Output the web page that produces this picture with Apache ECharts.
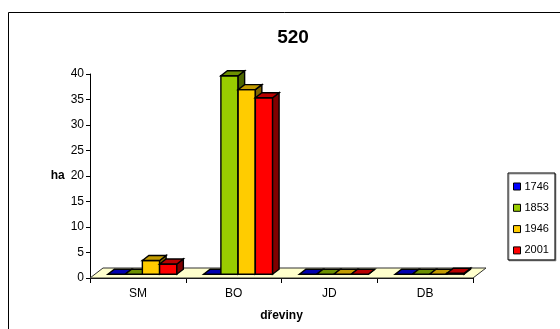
<!DOCTYPE html>
<html>
<head>
<meta charset="utf-8">
<script src="https://cdn.jsdelivr.net/npm/echarts@6/dist/echarts.min.js"></script>
<style>
html,body{margin:0;padding:0;background:#fff;}
#chart{width:560px;height:329px;}
</style>
</head>
<body>
<div id="chart"></div>
<script>
var categories = ['SM', 'BO', 'JD', 'DB'];
var years = ['1746', '1853', '1946', '2001'];
var v1746 = [0, 0, 0, 0];
var v1853 = [0, 38.9, 0, 0];
var v1946 = [2.7, 36.2, 0, 0];
var v2001 = [2.0, 34.6, 0, 0.2];
var yTicks = [0, 5, 10, 15, 20, 25, 30, 35, 40];

var seriesValues = [v1746, v1853, v1946, v2001];
var frontColors = ['#0000FF', '#99CC00', '#FFCC00', '#FF0000'];
var topColors = ['#0000B0', '#6B8F00', '#C29B00', '#B80000'];
var sideColors = ['#000080', '#4D6600', '#806600', '#800000'];

var chart = echarts.init(document.getElementById('chart'), null, {renderer: 'canvas'});

function barRender(si) {
  return function (params, api) {
    var ci = api.value(0), v = api.value(1);
    var base = api.coord([ci, 0]);
    var top = api.coord([ci, v]);
    var cw = api.size([1, 0])[0];
    var bw = cw * 0.18;
    var sx = cw * 0.047, sy = -3.8;
    var x0 = base[0] - 2 * bw + si * bw + sx;
    var yb = base[1] + sy, yt = top[1] + sy;
    var dx = 6.5, dy = -5;
    var st = {stroke: '#000', lineWidth: 1.4};
    return {
      type: 'group',
      children: [
        {type: 'rect', shape: {x: x0, y: yt, width: bw, height: yb - yt},
          style: Object.assign({fill: frontColors[si]}, st)},
        {type: 'polygon', shape: {points: [[x0 + bw, yt], [x0 + bw + dx, yt + dy], [x0 + bw + dx, yb + dy], [x0 + bw, yb]]},
          style: Object.assign({fill: sideColors[si]}, st)},
        {type: 'polygon', shape: {points: [[x0, yt], [x0 + bw, yt], [x0 + bw + dx, yt + dy], [x0 + dx, yt + dy]]},
          style: Object.assign({fill: topColors[si]}, st)}
      ]
    };
  };
}

function floorRender(params, api) {
  var cs = params.coordSys;
  var x = cs.x, y = cs.y + cs.height, w = cs.width;
  var fdx = 13, fdy = -10;
  return {
    type: 'polygon',
    shape: {points: [[x, y], [x + w, y], [x + w + fdx, y + fdy], [x + fdx, y + fdy]]},
    style: {fill: '#FFFFCC', stroke: '#333', lineWidth: 1}
  };
}

var series = [{
  type: 'custom',
  name: 'floor',
  renderItem: floorRender,
  data: [[0, 0]],
  z: 1,
  silent: true
}];
for (var i = 0; i < years.length; i++) {
  series.push({
    type: 'custom',
    name: years[i],
    renderItem: barRender(i),
    itemStyle: {color: frontColors[i]},
    data: seriesValues[i].map(function (v, ci) { return [ci, v]; }),
    z: 2 + i
  });
}

var font = 'Liberation Sans, Arial, sans-serif';

chart.setOption({
  animation: false,
  backgroundColor: '#fff',
  color: frontColors,
  title: {
    text: '520',
    left: 288,
    textAlign: 'center',
    top: 23,
    textStyle: {fontFamily: font, fontSize: 19, fontWeight: 'bold', color: '#000'}
  },
  graphic: [{
    type: 'rect',
    shape: {x: 8.5, y: 12.5, width: 600, height: 400},
    style: {fill: 'none', stroke: '#000', lineWidth: 1},
    z: -1,
    silent: true
  }],
  legend: {
    data: years,
    orient: 'vertical',
    left: 508,
    top: 173,
    icon: 'rect',
    itemWidth: 7,
    itemHeight: 7,
    itemGap: 8.3,
    padding: [7, 6, 3, 5],
    borderColor: '#000',
    borderWidth: 1,
    shadowColor: 'rgba(0,0,0,0.35)',
    shadowOffsetX: 1,
    shadowOffsetY: 1,
    shadowBlur: 0,
    backgroundColor: '#fff',
    itemStyle: {borderColor: '#000', borderWidth: 1},
    textStyle: {fontFamily: font, fontSize: 11, color: '#000', padding: [0, 0, 0, -1], lineHeight: 13},
    selectedMode: false
  },
  grid: {left: 90, right: 87, top: 74, bottom: 51},
  xAxis: {
    type: 'category',
    data: categories,
    boundaryGap: true,
    name: 'dřeviny',
    nameLocation: 'middle',
    nameGap: 32,
    nameTextStyle: {fontFamily: font, fontSize: 12, fontWeight: 'bold', color: '#000'},
    axisLine: {lineStyle: {color: '#000', width: 1}},
    axisTick: {show: true, length: 5, lineStyle: {color: '#000'}},
    axisLabel: {fontFamily: font, fontSize: 12, color: '#000', margin: 10},
    splitLine: {show: false}
  },
  yAxis: {
    type: 'value',
    min: yTicks[0],
    max: yTicks[yTicks.length - 1],
    interval: 5,
    name: 'ha',
    nameLocation: 'middle',
    nameRotate: 0,
    nameGap: 25,
    nameTextStyle: {fontFamily: font, fontSize: 12, fontWeight: 'bold', color: '#000'},
    axisLine: {show: true, lineStyle: {color: '#000', width: 1}},
    axisTick: {show: true, length: 4, lineStyle: {color: '#000'}},
    axisLabel: {fontFamily: font, fontSize: 12, color: '#000', margin: 6},
    splitLine: {show: false}
  },
  series: series
});
</script>
</body>
</html>
